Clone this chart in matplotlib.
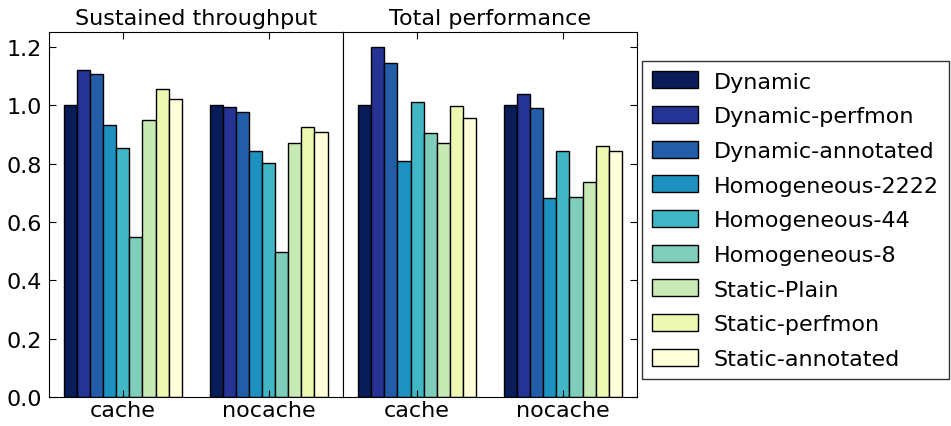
import matplotlib.pyplot as plt
import numpy as np

# Normalized values
groups = ['cache', 'nocache']
configs = ['Dynamic', 'Dynamic-perfmon', 'Dynamic-annotated',
           'Homogeneous-2222', 'Homogeneous-44', 'Homogeneous-8',
           'Static-Plain', 'Static-perfmon', 'Static-annotated']
colors = ['#081d58', '#253494', '#225ea8', '#1d91c0', '#41b6c4',
          '#7fcdbb', '#c7e9b4', '#edf8b1', '#ffffd9']

throughput_cache = [1.0, 1.122, 1.106, 0.932, 0.855, 0.548, 0.949, 1.055, 1.022]
throughput_nocache = [1.0, 0.993, 0.976, 0.843, 0.803, 0.497, 0.871, 0.926, 0.909]
perf_cache = [1.0, 1.199, 1.146, 0.809, 1.010, 0.904, 0.871, 0.999, 0.956]
perf_nocache = [1.0, 1.038, 0.989, 0.681, 0.843, 0.686, 0.737, 0.860, 0.843]

panels = [('Sustained throughput', throughput_cache, throughput_nocache),
          ('Total performance', perf_cache, perf_nocache)]

fs = 16

fig, axes = plt.subplots(1, 2, figsize=(9.51, 4.27), dpi=100, sharey=True)
fig.subplots_adjust(left=0.051, right=0.670, top=0.922, bottom=0.068, wspace=0)

width = 0.09
x = np.arange(len(groups))
handles = []
for ax, (title, cache_vals, nocache_vals) in zip(axes, panels):
    for i, name in enumerate(configs):
        offs = (i - (len(configs) - 1) / 2) * width
        b = ax.bar(x + offs, [cache_vals[i], nocache_vals[i]], width,
                   color=colors[i], edgecolor='black', linewidth=1.0, label=name)
        if ax is axes[0]:
            handles.append(b)
    ax.set_title(title, fontsize=fs, pad=6)
    ax.set_xticks(x)
    ax.set_xticklabels(groups, fontsize=fs)
    ax.set_xlim(-0.51, 1.51)
    ax.set_ylim(0, 1.25)
    ax.tick_params(direction='in', top=True, length=5, labelsize=fs, pad=2)

axes[0].set_yticks([0.0, 0.2, 0.4, 0.6, 0.8, 1.0, 1.2])
axes[0].yaxis.set_ticks_position('left')
axes[0].tick_params(axis='y', pad=5)
axes[1].yaxis.set_ticks_position('right')
axes[1].tick_params(labelright=False, labelleft=False)

axes[1].legend(handles=handles, labels=configs, loc='center left',
               bbox_to_anchor=(1.015, 0.485), fontsize=fs, frameon=True,
               fancybox=False, edgecolor='black', handlelength=2.1,
               handleheight=0.8, handletextpad=0.7, labelspacing=0.65,
               borderpad=0.45, borderaxespad=0)

plt.savefig('out.png', dpi=100)
